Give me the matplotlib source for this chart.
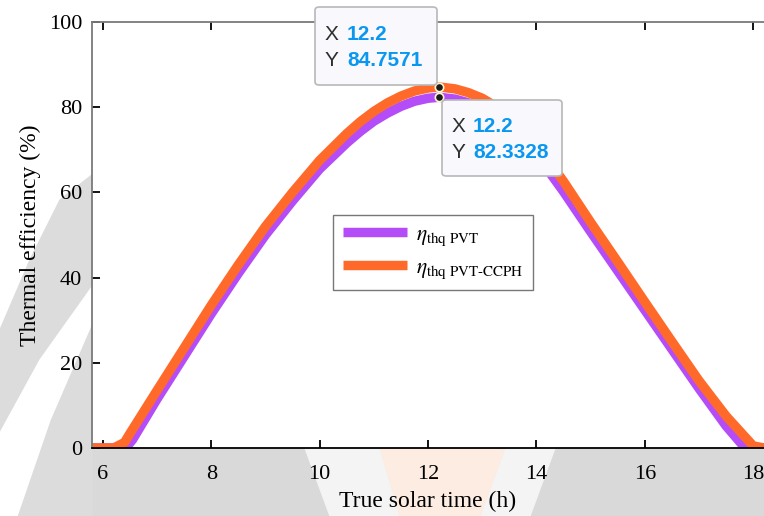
import matplotlib
matplotlib.use('Agg')
import matplotlib.pyplot as plt
from matplotlib.patches import FancyBboxPatch, Rectangle, Polygon

# hours (true solar time) and thermal efficiency (%)
t_ccph = [5.8, 6.0, 6.2, 6.4, 6.5, 7.0, 7.5, 8.0, 8.5, 9.0, 9.5, 10.0, 10.5,
          10.75, 11.0, 11.25, 11.5, 11.75, 12.0, 12.2, 12.5, 12.75, 13.0,
          13.25, 13.5, 13.75, 14.0, 14.25, 14.5, 15.0, 15.5, 16.0, 16.5,
          17.0, 17.5, 18.0, 18.2]
eta_ccph = [0, 0, 0, 1.3, 3.4, 13.5, 23.5, 33.5, 43, 52, 60, 67.5, 73.8,
            76.6, 79, 81, 82.6, 83.8, 84.5, 84.7571, 84.3, 83.4, 82.1,
            80.2, 77.8, 74.8, 71.2, 67, 62.6, 53, 43.7, 34.3, 25,
            15.8, 7.5, 0.5, 0]

t_pvt = [5.8, 6.0, 6.25, 6.45, 6.55, 7.0, 7.5, 8.0, 8.5, 9.0, 9.5, 10.0, 10.5,
         10.75, 11.0, 11.25, 11.5, 11.75, 12.0, 12.2, 12.5, 12.75, 13.0,
         13.25, 13.5, 13.75, 14.0, 14.25, 14.5, 15.0, 15.5, 16.0, 16.5,
         17.0, 17.5, 17.85, 18.2]
eta_pvt = [0, 0, 0, 0.4, 2.0, 11.5, 21.5, 31.5, 41, 50, 58, 65.5, 71.6,
           74.3, 76.7, 78.6, 80.2, 81.4, 82.1, 82.3328, 81.9, 81, 79.7,
           77.8, 75.4, 72.4, 68.8, 64.6, 60.2, 50.8, 41.6, 32.4, 23.2,
           14, 5.2, 0, 0]

tip_x = 12.2
tip_y = [84.7571, 82.3328]

W, H = 764, 516
fig = plt.figure(figsize=(W / 100, H / 100), dpi=100, facecolor='white')

def px(x, y):
    return x / W, 1 - y / H

def poly(pts, color, z=-5):
    fig.patches.append(Polygon([px(*p) for p in pts], closed=True,
                               transform=fig.transFigure, color=color, zorder=z))

# faint watermark behind the figure
fig.patches.append(Rectangle((0, 0), 1, 1 - 448 / H, transform=fig.transFigure,
                             color='#d9d9d9', zorder=-5))
poly([(92, 175), (60, 200), (30, 260), (0, 330), (0, 516), (92, 516)], '#dcdcdc')
poly([(92, 287), (40, 360), (0, 433), (0, 516), (17, 516), (50, 420), (92, 323)], 'white', -4)
poly([(305, 448), (555, 448), (530, 516), (330, 516)], '#f4f4f4', -4)
poly([(380, 448), (505, 448), (480, 516), (400, 516)], '#fcece2', -3)

serif = 'Liberation Serif'
plt.rcParams['mathtext.fontset'] = 'stix'

ax = fig.add_axes([92 / W, 1 - 448 / H, 1 - 92 / W, (448 - 22) / H])
ax.plot(t_pvt, eta_pvt, color='#b44cf8', lw=6.8, solid_capstyle='butt',
        solid_joinstyle='round', label=r'$\eta_{\mathrm{thq\ PVT}}$')
ax.plot(t_ccph, eta_ccph, color='#ff6a2a', lw=6.8, solid_capstyle='butt',
        solid_joinstyle='round', label=r'$\eta_{\mathrm{thq\ PVT\text{-}CCPH}}$')
ax.plot([tip_x, tip_x], tip_y, 'o', ms=6, mfc='#1c1c1c', mec='#fff6cc',
        mew=1.2, zorder=5, clip_on=False)

ax.set_xlim(5.8, 18.2)
ax.set_ylim(0, 100)
ax.set_xticks([6, 8, 10, 12, 14, 16, 18])
ax.set_yticks([0, 20, 40, 60, 80, 100])
ax.tick_params(direction='in', length=6, width=1.3, top=True, right=False,
               labelsize=16, colors='black')
ax.tick_params(axis='x', pad=12)
ax.tick_params(axis='y', pad=7)
for lab in ax.get_xticklabels() + ax.get_yticklabels():
    lab.set_fontfamily(serif)
ax.spines['right'].set_visible(False)
ax.spines['left'].set_color('#7a7a7a')
ax.spines['top'].set_color('#7a7a7a')
for s in ['left', 'top', 'bottom']:
    ax.spines[s].set_linewidth(1.3)

ax.set_xlabel('True solar time (h)', fontsize=17, family=serif, labelpad=5)
ax.set_ylabel('Thermal efficiency (%)', fontsize=17, family=serif, labelpad=6)

leg = ax.legend(loc='upper left', bbox_to_anchor=((333 - 92) / (W - 92), (448 - 215) / 426),
                borderaxespad=0, frameon=True, fancybox=False, handlelength=3.0,
                borderpad=0.45, labelspacing=0.45, handletextpad=0.4,
                prop={'family': serif, 'size': 15.5})
leg.get_frame().set_edgecolor('#555555')
leg.get_frame().set_linewidth(1.0)

# data tip boxes
tips = [((315, 7, 437, 85), (325, 34), (347, 34), (325, 61), (347, 61), '12.2', '84.7571'),
        ((442, 100, 562, 176), (452, 126), (473, 126), (452, 152), (473, 152), '12.2', '82.3328')]
for box, xl, xv, yl, yv, xs, ys in tips:
    x0, y0 = px(box[0], box[3])
    x1, y1 = px(box[2], box[1])
    fig.patches.append(FancyBboxPatch((x0, y0), x1 - x0, y1 - y0,
                                      boxstyle='round,pad=0,rounding_size=0.006',
                                      transform=fig.transFigure, fc='#f9f9fd',
                                      ec='#b8b8b8', lw=1.2, zorder=6))
    for (tx, ty), s, c, w in [(xl, 'X', '#2e2e2e', 'normal'), (xv, xs, '#0a97f0', 'bold'),
                              (yl, 'Y', '#2e2e2e', 'normal'), (yv, ys, '#0a97f0', 'bold')]:
        fig.text(*px(tx, ty), s, fontsize=15, family='Liberation Sans', color=c,
                 fontweight=w, va='center', zorder=7)

fig.savefig('out.png', dpi=100, facecolor=fig.get_facecolor())
